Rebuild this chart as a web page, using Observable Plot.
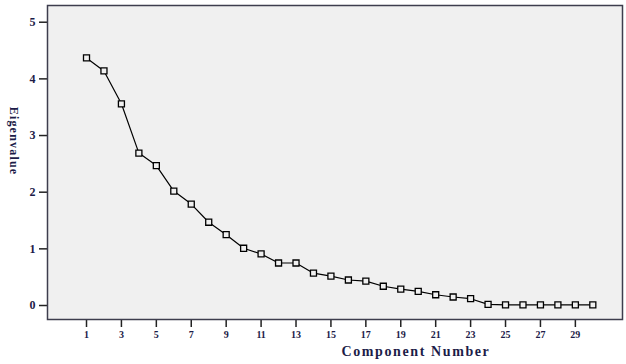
<!DOCTYPE html>
<html>
<head>
<meta charset="utf-8">
<script src="https://cdn.jsdelivr.net/npm/d3@7"></script>
<script src="https://cdn.jsdelivr.net/npm/@observablehq/plot@0.6"></script>
<style>
  html, body { margin: 0; padding: 0; background: #ffffff; }
  #chart svg { display: block; }
</style>
</head>
<body>
<div id="chart"></div>
<script>
const components = [1,2,3,4,5,6,7,8,9,10,11,12,13,14,15,16,17,18,19,20,21,22,23,24,25,26,27,28,29,30];
const eigenvalues = [4.37,4.14,3.56,2.69,2.47,2.02,1.79,1.47,1.25,1.01,0.91,0.75,0.75,0.57,0.52,0.45,0.43,0.34,0.29,0.25,0.19,0.15,0.12,0.02,0.01,0.01,0.01,0.01,0.01,0.01];
const xTicks = [1,3,5,7,9,11,13,15,17,19,21,23,25,27,29];
const yTicks = [0,1,2,3,4,5];
const xLabel = "Component Number";
const yLabel = "Eigenvalue";

const data = components.map((c, i) => ({component: c, eigenvalue: eigenvalues[i]}));

const labelColor = "#1c1c48";
const font = "'Liberation Serif', 'DejaVu Serif', serif";

const chart = Plot.plot({
  width: 626,
  height: 364,
  marginLeft: 47,
  marginRight: 4,
  marginTop: 5,
  marginBottom: 45,
  style: {fontFamily: font, background: "#ffffff"},
  x: {domain: [-1.234, 31.70]},
  y: {domain: [-0.247, 5.295]},
  marks: [
    Plot.frame({fill: "#f0f0f0", stroke: "none"}),
    Plot.axisX({ticks: xTicks, tickFormat: "d", tickSize: 8, tickPadding: 3, label: null, fontSize: 10, fontWeight: "bold", fill: labelColor, stroke: "#222", strokeWidth: 1.5}),
    Plot.axisY({ticks: yTicks, tickFormat: "d", tickSize: 8, tickPadding: 4, label: null, fontSize: 12, fontWeight: "bold", fill: labelColor, stroke: "#222", strokeWidth: 1.5}),
    Plot.line(data, {x: "component", y: "eigenvalue", stroke: "#000", strokeWidth: 1.2}),
    Plot.dot(data, {x: "component", y: "eigenvalue", symbol: "square", r: 3.4, stroke: "#000", strokeWidth: 1.3, fill: "#f0f0f0"}),
    Plot.frame({stroke: "#3d3d4d", strokeWidth: 1.5})
  ]
});

const svg = d3.select(chart);
svg.append("text")
  .attr("x", 416)
  .attr("y", 356)
  .attr("text-anchor", "middle")
  .attr("font-family", font)
  .attr("font-size", 14)
  .attr("font-weight", "bold")
  .attr("letter-spacing", "1.6px")
  .attr("fill", labelColor)
  .text(xLabel);
svg.append("text")
  .attr("transform", "translate(10,141) rotate(90)")
  .attr("text-anchor", "middle")
  .attr("font-family", font)
  .attr("font-size", 12)
  .attr("font-weight", "bold")
  .attr("letter-spacing", "1.2px")
  .attr("fill", labelColor)
  .text(yLabel);

document.getElementById("chart").appendChild(chart);
</script>
</body>
</html>
